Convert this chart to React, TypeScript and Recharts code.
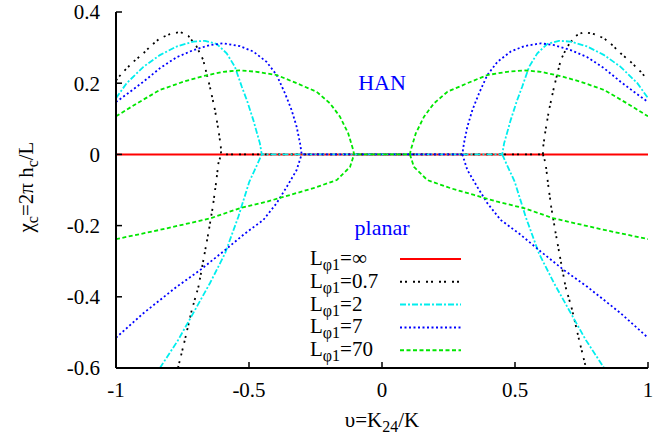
import { LineChart, Line, XAxis, YAxis, Legend } from "recharts";

const xTicks = [-1, -0.5, 0, 0.5, 1];
const yTicks = [0.4, 0.2, 0, -0.2, -0.4, -0.6];

// left half of each curve (the figure is symmetric in v)
// upper branch: from v=-1 to where it meets zero
const han07 = [
  [-1, 0.208], [-0.973, 0.232], [-0.935, 0.26], [-0.897, 0.284], [-0.866, 0.307],
  [-0.835, 0.326], [-0.797, 0.338], [-0.759, 0.344], [-0.728, 0.333], [-0.697, 0.303],
  [-0.672, 0.265], [-0.647, 0.19], [-0.628, 0.125], [-0.615, 0.069], [-0.606, 0.022], [-0.605, 0],
];
const han2 = [
  [-1, 0.158], [-0.96, 0.2], [-0.897, 0.246], [-0.835, 0.279], [-0.772, 0.303],
  [-0.709, 0.317], [-0.665, 0.319], [-0.621, 0.31], [-0.584, 0.284], [-0.553, 0.246],
  [-0.527, 0.19], [-0.507, 0.15], [-0.484, 0.097], [-0.459, 0.031], [-0.452, 0],
];
const han7 = [
  [-1, 0.147], [-0.947, 0.176], [-0.897, 0.204], [-0.835, 0.242], [-0.772, 0.273],
  [-0.709, 0.293], [-0.647, 0.307], [-0.597, 0.312], [-0.534, 0.304], [-0.484, 0.289],
  [-0.434, 0.26], [-0.396, 0.223], [-0.365, 0.172], [-0.34, 0.125], [-0.321, 0.078],
  [-0.308, 0.031], [-0.302, 0],
];
const han70 = [
  [-1, 0.107], [-0.922, 0.143], [-0.835, 0.181], [-0.747, 0.204], [-0.672, 0.22],
  [-0.597, 0.232], [-0.534, 0.236], [-0.471, 0.232], [-0.396, 0.223], [-0.321, 0.2],
  [-0.246, 0.176], [-0.195, 0.143], [-0.158, 0.106], [-0.127, 0.059], [-0.108, 0.012], [-0.105, 0],
];

// lower branch: from zero down to the left
const planar07 = [
  [-0.605, 0], [-0.615, -0.025], [-0.624, -0.081], [-0.636, -0.147], [-0.653, -0.222],
  [-0.669, -0.287], [-0.69, -0.372], [-0.715, -0.437], [-0.741, -0.521], [-0.767, -0.6],
];
const planar2 = [
  [-0.452, 0], [-0.47, -0.03], [-0.499, -0.077], [-0.54, -0.175], [-0.59, -0.278],
  [-0.647, -0.362], [-0.703, -0.437], [-0.766, -0.521], [-0.835, -0.6],
];
const planar7 = [
  [-0.302, 0], [-0.321, -0.044], [-0.358, -0.091], [-0.396, -0.137], [-0.446, -0.184],
  [-0.52, -0.225], [-0.597, -0.273], [-0.684, -0.325], [-0.772, -0.372], [-0.897, -0.446], [-1, -0.515],
];
const planar70 = [
  [-0.105, 0], [-0.12, -0.035], [-0.17, -0.072], [-0.258, -0.095], [-0.346, -0.114],
  [-0.434, -0.133], [-0.534, -0.151], [-0.647, -0.18], [-0.835, -0.212], [-1, -0.238],
];

const infLine = [[-1, 0], [1, 0]];

type Pair = number[];
const toPts = (arr: Pair[]) => arr.map(([x, y]) => ({ x, y }));
const flip = (arr: Pair[]) => arr.map(([x, y]) => [-x, y]);

// han branch runs left -> zero -> right
const hanPath = (left: Pair[]) => toPts([...left, ...flip(left).reverse()]);
// planar branches on both sides, broken by a null
const planarPath = (left: Pair[]) => [
  ...toPts([...left].reverse()),
  { x: 0, y: null },
  ...toPts(flip(left)),
];

const joined = (han: Pair[], planar: Pair[]) => [
  ...hanPath(han),
  { x: 0, y: null },
  ...planarPath(planar),
];

const series = [
  { label: "∞", color: "#ff0000", dash: undefined, data: toPts(infLine) },
  { label: "0.7", color: "#000000", dash: "2 3 2 6", data: joined(han07, planar07) },
  { label: "2", color: "#00eeee", dash: "6 2 2 2", data: joined(han2, planar2) },
  { label: "7", color: "#0000ff", dash: "2 2.5", data: joined(han7, planar7) },
  { label: "70", color: "#00e600", dash: "4 2.5", data: joined(han70, planar70) },
];

const FONT = "'Liberation Serif', Tinos, 'Times New Roman', 'DejaVu Serif', serif";
const axisLine = { stroke: "#000", strokeWidth: 2 };
const tickLine = { stroke: "#000", strokeWidth: 1.5 };
const tickStyle = { fill: "#000", fontSize: 21, style: { fontFamily: FONT } };

function LegendBox() {
  return (
    <svg width={170} height={125} style={{ display: "block", fontFamily: FONT }}>
      {series.map((s, i) => {
        const cy = 19 + i * 22.8;
        return (
          <g key={s.label}>
            <text x={10} y={cy + 6} fontSize={21} fill="#000">
              L<tspan dy={5} fontSize={16}>φ1</tspan>
              <tspan dy={-5}>={s.label}</tspan>
            </text>
            <line x1={100} x2={161} y1={cy} y2={cy} stroke={s.color} strokeWidth={2}
              strokeDasharray={s.dash} />
          </g>
        );
      })}
    </svg>
  );
}

export default function App() {
  return (
    <div style={{ position: "absolute", left: 0, top: 0, width: 653, height: 441, background: "#fff", fontFamily: FONT }}>
      <LineChart
        width={653}
        height={441}
        margin={{ top: 12, right: 5, bottom: 43, left: 56 }}
        style={{ fontFamily: FONT }}
      >
        <XAxis
          xAxisId={0}
          type="number"
          dataKey="x"
          domain={[-1, 1]}
          ticks={xTicks}
          interval={0}
          allowDataOverflow
          height={30}
          axisLine={axisLine}
          tickLine={tickLine}
          tickSize={-6}
          tickMargin={20}
          tick={tickStyle}
        />
        <XAxis
          xAxisId="top"
          orientation="top"
          type="number"
          domain={[-1, 1]}
          ticks={xTicks}
          interval={0}
          height={0}
          axisLine={axisLine}
          tickLine={tickLine}
          tickSize={-6}
          tick={false}
        />
        <YAxis
          yAxisId={0}
          type="number"
          domain={[-0.6, 0.4]}
          ticks={yTicks}
          interval={0}
          allowDataOverflow
          width={60}
          axisLine={axisLine}
          tickLine={tickLine}
          tickSize={-6}
          tickMargin={22}
          tick={tickStyle}
        />
        <YAxis
          yAxisId="right"
          orientation="right"
          type="number"
          domain={[-0.6, 0.4]}
          ticks={yTicks}
          interval={0}
          width={0}
          axisLine={axisLine}
          tickLine={tickLine}
          tickSize={-6}
          tick={false}
        />
        {series.map((s) => (
          <Line
            key={s.label}
            data={s.data}
            dataKey="y"
            type="linear"
            stroke={s.color}
            strokeWidth={s.label === "∞" ? 2 : 1.8}
            strokeDasharray={s.dash}
            dot={false}
            activeDot={false}
            connectNulls={false}
            isAnimationActive={false}
          />
        ))}
        <Legend
          layout="horizontal"
          align="center"
          verticalAlign="middle"
          wrapperStyle={{ left: 300, top: 240, width: 170, height: 125 }}
          content={() => <LegendBox />}
        />
      </LineChart>
      <svg
        width={653}
        height={441}
        style={{ position: "absolute", left: 0, top: 0, pointerEvents: "none", fontFamily: FONT }}
      >
        <text transform="translate(33,187) rotate(-90)" textAnchor="middle" fontSize={21} fill="#000">
          χ<tspan dy={5} fontSize={16}>c</tspan>
          <tspan dy={-5}>=2π h</tspan>
          <tspan dy={5} fontSize={16}>c</tspan>
          <tspan dy={-5}>/L</tspan>
        </text>
        <text x={382} y={427} textAnchor="middle" fontSize={21} fill="#000">
          υ=K<tspan dy={5} fontSize={16}>24</tspan>
          <tspan dy={-5}>/K</tspan>
        </text>
        <text x={382} y={90} textAnchor="middle" fontSize={22} fill="#0000ff">HAN</text>
        <text x={382} y={235} textAnchor="middle" fontSize={22} fill="#0000ff">planar</text>
      </svg>
    </div>
  );
}
